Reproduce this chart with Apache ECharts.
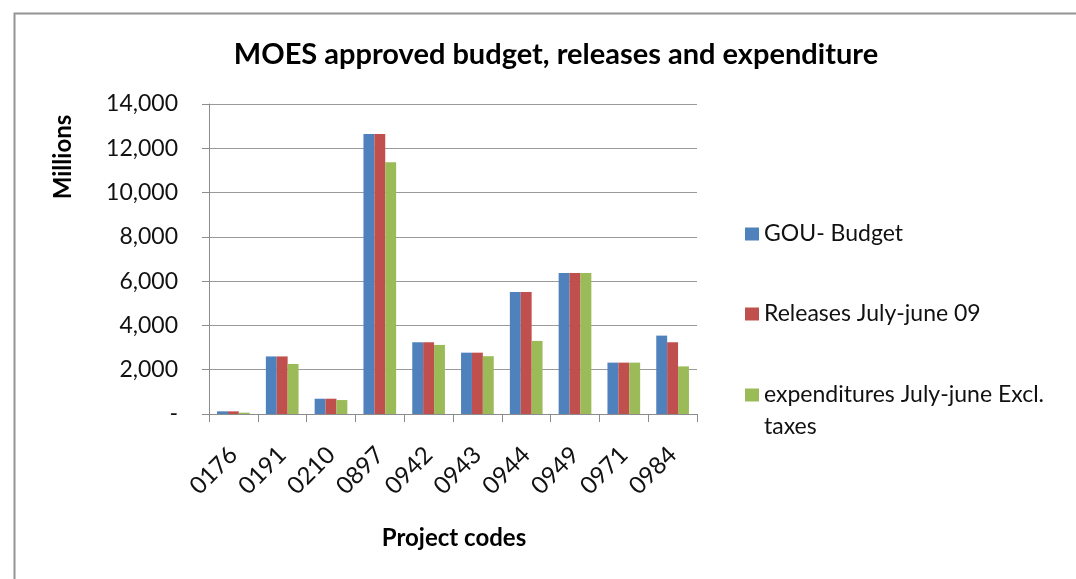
<!DOCTYPE html>
<html>
<head>
<meta charset="utf-8">
<script src="https://cdn.jsdelivr.net/npm/echarts@6/dist/echarts.min.js"></script>
<style>
  html, body { margin: 0; padding: 0; background: #fff; }
  #chart { width: 1076px; height: 579px; }
</style>
</head>
<body>
<div id="chart"></div>
<script>
// Project codes on the category axis
const projectCodes = ['0176', '0191', '0210', '0897', '0942', '0943', '0944', '0949', '0971', '0984'];

// Values in millions
const gouBudget    = [120, 2600, 690, 12650, 3240, 2770, 5510, 6370, 2320, 3540];
const releases     = [120, 2600, 690, 12650, 3240, 2770, 5510, 6370, 2320, 3240];
const expenditures = [60, 2260, 630, 11370, 3120, 2610, 3300, 6370, 2320, 2150];

const seriesNames = ['GOU- Budget', 'Releases July-june 09', 'expenditures July-june Excl. taxes'];
const seriesColors = ['#4F81BD', '#C0504D', '#9BBB59'];

// Value axis ticks
const yMin = 0, yMax = 14000, yStep = 2000;

const FONT = 'Lato, "Open Sans", sans-serif';

const chart = echarts.init(document.getElementById('chart'), null, { renderer: 'canvas' });

function legendFor(name, top) {
  return {
    orient: 'vertical',
    left: 740,
    top: top,
    data: [name],
    itemWidth: 14,
    itemHeight: 13,
    itemGap: 10,
    selectedMode: false,
    icon: 'rect',
    textStyle: { fontFamily: FONT, fontSize: 23, color: '#111', lineHeight: 32 },
    formatter: function (n) {
      // long label wraps onto a second line, first line kept level with the swatch
      return n === seriesNames[2] ? '\nexpenditures July-june Excl.\ntaxes' : n;
    }
  };
}

const option = {
  backgroundColor: '#fff',
  animation: false,
  title: {
    text: 'MOES approved budget, releases and expenditure',
    left: 551,
    top: 35,
    textAlign: 'center',
    textStyle: { fontFamily: FONT, fontWeight: 'bold', fontSize: 29, color: '#000' }
  },
  legend: [
    legendFor(seriesNames[0], 213),
    legendFor(seriesNames[1], 293),
    legendFor(seriesNames[2], 342)
  ],
  grid: { left: 209, right: 379, top: 104, bottom: 165, containLabel: false },
  xAxis: {
    type: 'category',
    data: projectCodes,
    axisLine: { lineStyle: { color: '#8c8c8c', width: 1 } },
    axisTick: { show: true, length: 8, alignWithLabel: false, lineStyle: { color: '#8c8c8c' } },
    axisLabel: {
      rotate: 45,
      margin: 37,
      interval: 0,
      fontFamily: FONT,
      fontSize: 24,
      color: '#111'
    }
  },
  yAxis: {
    type: 'value',
    min: yMin,
    max: yMax,
    interval: yStep,
    axisLine: { show: true, lineStyle: { color: '#8c8c8c', width: 1 } },
    axisTick: { show: true, length: 7, lineStyle: { color: '#8c8c8c' } },
    splitLine: { show: true, lineStyle: { color: '#9a9a9a', width: 1 } },
    axisLabel: {
      margin: 31,
      fontFamily: FONT,
      fontSize: 23,
      color: '#111',
      formatter: function (v) { return v === 0 ? '-' : v.toLocaleString('en-US'); }
    }
  },
  series: [gouBudget, releases, expenditures].map(function (vals, i) {
    return {
      name: seriesNames[i],
      type: 'bar',
      data: vals,
      barGap: '0%',
      barCategoryGap: '33%',
      itemStyle: { color: seriesColors[i] }
    };
  }),
  graphic: [
    {
      // outer chart frame, running off the right and bottom edges
      type: 'rect',
      left: 12,
      top: 11,
      shape: { width: 1100, height: 620 },
      style: { fill: 'none', stroke: '#949494', lineWidth: 2 },
      z: -1
    },
    {
      type: 'text',
      x: 63,
      y: 157,
      rotation: Math.PI / 2,
      style: {
        text: 'Millions',
        fontFamily: FONT,
        fontWeight: 'bold',
        fontSize: 24,
        fill: '#000',
        align: 'center',
        verticalAlign: 'middle'
      }
    },
    {
      type: 'text',
      x: 454,
      y: 538,
      style: {
        text: 'Project codes',
        fontFamily: FONT,
        fontWeight: 'bold',
        fontSize: 24,
        fill: '#000',
        align: 'center',
        verticalAlign: 'middle'
      }
    }
  ]
};

chart.setOption(option);
</script>
</body>
</html>
